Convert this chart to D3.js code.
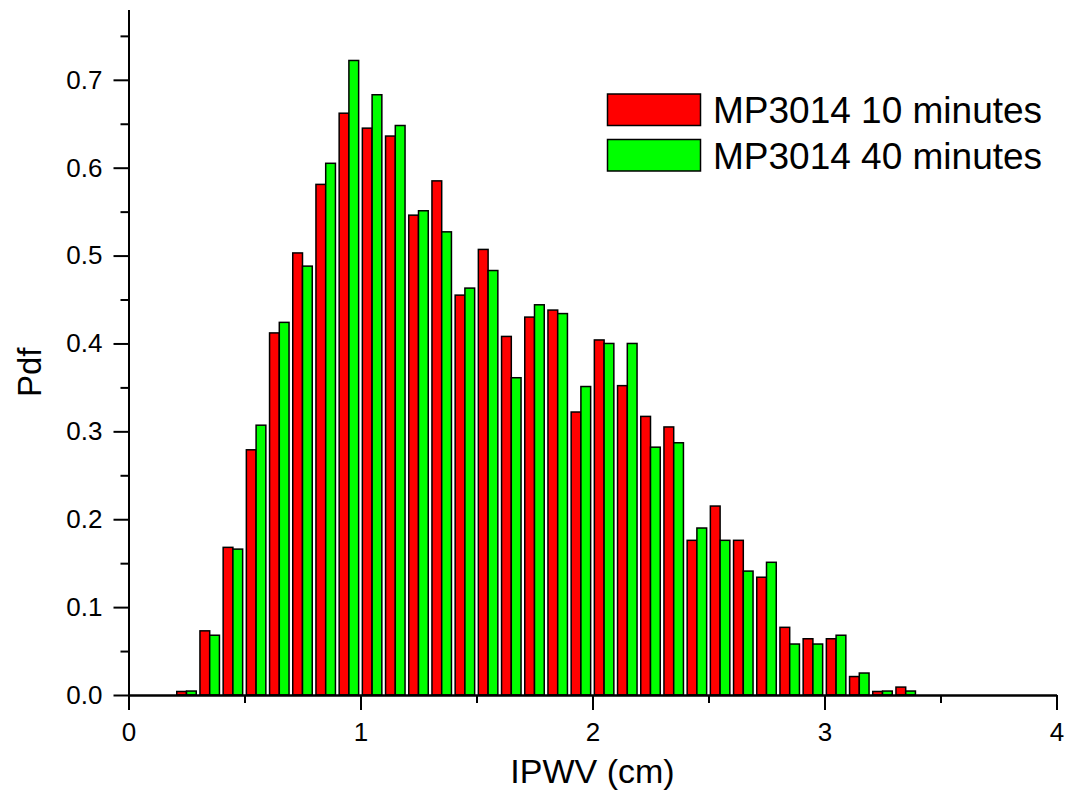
<!DOCTYPE html>
<html>
<head>
<meta charset="utf-8">
<script src="https://cdn.jsdelivr.net/npm/d3@7"></script>
<style>
  html, body { margin: 0; padding: 0; background: #fff; }
  svg { display: block; font-family: Arial, "Liberation Sans", sans-serif; }
</style>
</head>
<body>
<svg id="chart" width="1066" height="798"></svg>
<script>
// Bin centres of the IPWV histogram (cm)
const bins = [0.25, 0.35, 0.45, 0.55, 0.65, 0.75, 0.85, 0.95, 1.05, 1.15,
              1.25, 1.35, 1.45, 1.55, 1.65, 1.75, 1.85, 1.95, 2.05, 2.15,
              2.25, 2.35, 2.45, 2.55, 2.65, 2.75, 2.85, 2.95, 3.05, 3.15,
              3.25, 3.35];

// Pdf per bin, 10-minute sampling
const pdf10 = [0.004, 0.073, 0.168, 0.279, 0.412, 0.503, 0.581, 0.662, 0.645, 0.636,
               0.546, 0.585, 0.455, 0.507, 0.408, 0.430, 0.438, 0.322, 0.404, 0.352,
               0.317, 0.305, 0.176, 0.215, 0.176, 0.134, 0.077, 0.064, 0.064, 0.021,
               0.004, 0.009];

// Pdf per bin, 40-minute sampling
const pdf40 = [0.0045, 0.068, 0.166, 0.307, 0.424, 0.488, 0.605, 0.722, 0.683, 0.648,
               0.551, 0.527, 0.463, 0.483, 0.361, 0.444, 0.434, 0.351, 0.400, 0.400,
               0.282, 0.287, 0.190, 0.176, 0.141, 0.151, 0.058, 0.058, 0.068, 0.025,
               0.0045, 0.0045];

const seriesNames = ["MP3014 10 minutes", "MP3014 40 minutes"];
const seriesColors = ["#ff0000", "#00ff00"];

const xTicks = [0, 1, 2, 3, 4];
const xMinorTicks = [0.5, 1.5, 2.5, 3.5];
const yTicks = [0.0, 0.1, 0.2, 0.3, 0.4, 0.5, 0.6, 0.7];
const yMinorTicks = [0.05, 0.15, 0.25, 0.35, 0.45, 0.55, 0.65, 0.75];

const svg = d3.select("#chart");

const x = d3.scaleLinear().domain([0, 4]).range([128.5, 1056.5]);
const y = d3.scaleLinear().domain([0, 0.78]).range([695, 9.5]);

const barW = 0.042; // width of one bar in x units

// Bars: 10-minute to the left of the bin centre, 40-minute to the right
const bars = svg.append("g");
[pdf10, pdf40].forEach((vals, s) => {
  bars.selectAll(null)
    .data(bins.map((b, i) => ({ b, v: vals[i] })))
    .join("rect")
    .attr("x", d => s === 0 ? x(d.b - barW) : x(d.b))
    .attr("width", x(barW) - x(0))
    .attr("y", d => y(d.v))
    .attr("height", d => y(0) - y(d.v))
    .attr("fill", seriesColors[s])
    .attr("stroke", "#000")
    .attr("stroke-width", 1.5);
});

// Axes
function styleAxis(g) {
  g.select(".domain").attr("stroke", "#000").attr("stroke-width", 2);
  g.selectAll(".tick line").attr("stroke", "#000").attr("stroke-width", 2);
  g.selectAll(".tick text").attr("fill", "#000").attr("font-size", 26)
    .attr("font-family", 'Arial, "Liberation Sans", sans-serif');
}

svg.append("g")
  .attr("transform", `translate(0,${y(0)})`)
  .call(d3.axisBottom(x).tickValues(xMinorTicks).tickSize(8).tickSizeOuter(0).tickFormat(""))
  .call(styleAxis);

svg.append("g")
  .attr("transform", `translate(0,${y(0)})`)
  .call(d3.axisBottom(x).tickValues(xTicks).tickSize(15).tickSizeOuter(0)
        .tickPadding(13).tickFormat(d3.format("d")))
  .call(styleAxis);

svg.append("g")
  .attr("transform", `translate(${x(0)},0)`)
  .call(d3.axisLeft(y).tickValues(yMinorTicks).tickSize(8).tickSizeOuter(0).tickFormat(""))
  .call(styleAxis);

svg.append("g")
  .attr("transform", `translate(${x(0)},0)`)
  .call(d3.axisLeft(y).tickValues(yTicks).tickSize(15).tickSizeOuter(0)
        .tickPadding(11).tickFormat(d3.format(".1f")))
  .call(styleAxis);

// Axis titles
svg.append("text")
  .attr("x", x(2))
  .attr("y", 783)
  .attr("text-anchor", "middle")
  .attr("font-size", 34)
  .text("IPWV (cm)");

svg.append("text")
  .attr("transform", `translate(41,${(y(0) + y(0.78)) / 2 + 20}) rotate(-90)`)
  .attr("text-anchor", "middle")
  .attr("font-size", 33)
  .text("Pdf");

// Legend
const legend = svg.append("g");
seriesNames.forEach((name, i) => {
  const top = 94 + i * 45.5;
  legend.append("rect")
    .attr("x", 607.5).attr("y", top)
    .attr("width", 93).attr("height", 31.5)
    .attr("fill", seriesColors[i])
    .attr("stroke", "#000").attr("stroke-width", 1.5);
  legend.append("text")
    .attr("x", 713).attr("y", top + 29)
    .attr("font-size", 37)
    .text(name);
});
</script>
</body>
</html>
